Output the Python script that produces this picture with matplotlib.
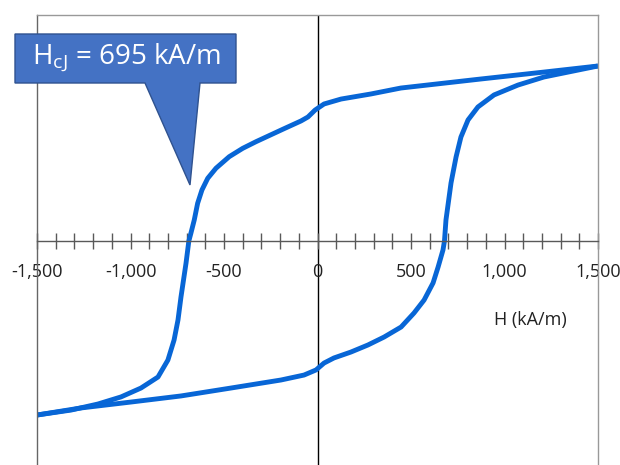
import matplotlib
matplotlib.use('Agg')
import matplotlib.pyplot as plt
from matplotlib.patches import Polygon
from matplotlib.ticker import MultipleLocator, FuncFormatter

plt.rcParams['font.family'] = ['Open Sans', 'DejaVu Sans']
plt.rcParams['mathtext.fontset'] = 'custom'
plt.rcParams['mathtext.rm'] = 'Open Sans'
plt.rcParams['mathtext.it'] = 'Open Sans:italic'

# descending branch (upper), H in kA/m, J in T
h_down = [1500, 1211, 874, 446, 286, 126, 35, -13, -51, -88, -179, -329, -400, -472,
          -543, -587, -618, -641, -659, -677, -688, -703, -730, -746, -767, -800,
          -853, -944, -1051, -1174, -1318, -1500]
j_down = [1.239, 1.196, 1.147, 1.083, 1.041, 1.005, 0.970, 0.927, 0.878, 0.850, 0.795,
          0.703, 0.656, 0.597, 0.515, 0.444, 0.361, 0.267, 0.149, 0.055, 0.0, -0.156,
          -0.396, -0.559, -0.701, -0.843, -0.963, -1.041, -1.104, -1.154, -1.197,
          -1.232]

# ascending branch (lower)
h_up = [-1500, -1265, -997, -730, -463, -195, -72, -8, 35, 88, 179, 270, 356, 447,
        516, 570, 618, 645, 671, 679, 687, 714, 741, 767, 805, 858, 944, 1072, 1211,
        1500]
j_up = [-1.232, -1.182, -1.140, -1.097, -1.041, -0.984, -0.949, -0.913, -0.864, -0.828,
        -0.786, -0.736, -0.680, -0.609, -0.510, -0.418, -0.297, -0.184, -0.064, 0.0,
        0.149, 0.411, 0.595, 0.736, 0.857, 0.949, 1.034, 1.104, 1.161, 1.239]

hcj_label = 'H$_{\\mathregular{cJ}}$ = 695 kA/m'

W, H = 620, 465
fig = plt.figure(figsize=(6.2, 4.65), dpi=100)
ax = fig.add_axes([37 / W, -2 / H, 561 / W, 452 / H])

line_color = '#0866D6'
ax.plot(h_down, j_down, color=line_color, lw=3.5, solid_joinstyle='round',
        solid_capstyle='butt')
ax.plot(h_up, j_up, color=line_color, lw=3.5, solid_joinstyle='round',
        solid_capstyle='butt')

ax.set_xlim(-1500, 1500)
ax.set_ylim(-1.6, 1.6)

ax.axvline(0, color='black', lw=1, zorder=1)
ax.spines['bottom'].set_position(('data', 0))
ax.spines['bottom'].set_color('#595959')
ax.spines['left'].set_color('#666666')
ax.spines['right'].set_color('#999999')
ax.spines['top'].set_color('#999999')
for s in ax.spines.values():
    s.set_linewidth(1)

ax.xaxis.set_major_locator(MultipleLocator(500))
ax.xaxis.set_minor_locator(MultipleLocator(100))
ax.xaxis.set_major_formatter(FuncFormatter(lambda v, p: f'{int(v):,}'))
ax.tick_params(axis='x', which='both', direction='inout', length=11, width=1,
               color='#595959', labelsize=13, pad=10.5, labelcolor='#222222')
ax.set_yticks([])

fig.text(530 / W, 1 - 320 / H, 'H (kA/m)', ha='center', va='center', fontsize=13,
         color='#222222')

# callout
pts = [(15, 34), (236, 34), (236, 83), (200, 83), (190, 185), (145, 83), (15, 83)]
poly = Polygon([(x / W, 1 - y / H) for x, y in pts], closed=True,
               transform=fig.transFigure, facecolor='#4472C4', edgecolor='#2F528F',
               lw=1, zorder=5)
fig.add_artist(poly)
fig.text(126 / W, 1 - 58 / H, hcj_label, ha='center', va='center', fontsize=20,
         color='white', zorder=6)

fig.savefig('out.png', dpi=100)
